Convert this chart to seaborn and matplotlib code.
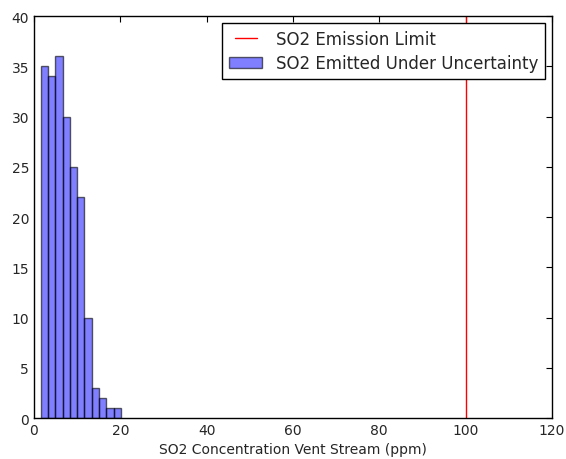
import numpy as np
import matplotlib
matplotlib.use("Agg")
import matplotlib.pyplot as plt
from matplotlib.legend_handler import HandlerLine2D
import seaborn as sns

# Histogram bins (ppm) and counts of simulated SO2 concentrations
bin_edges = [1.55, 3.24, 4.93, 6.62, 8.31, 10.0, 11.69, 13.38, 15.07, 16.76, 18.45, 20.14]
counts = [35, 34, 36, 30, 25, 22, 10, 3, 2, 1, 1]
emission_limit = 100

bin_centers = [(a + b) / 2 for a, b in zip(bin_edges[:-1], bin_edges[1:])]

sns.set_style("white")
plt.rcParams["font.family"] = ["DejaVu Sans"]

fig = plt.figure(figsize=(5.66, 4.6), dpi=100)
ax = fig.add_axes([0.060, 0.089, 0.915, 0.874])

limit_line = ax.axvline(emission_limit, color="red", lw=1, label="SO2 Emission Limit")
sns.histplot(x=bin_centers, weights=counts, bins=bin_edges, ax=ax,
             color="#0000ff", alpha=0.5, edgecolor=(0, 0, 0, 0.6), linewidth=1,
             label="SO2 Emitted Under Uncertainty")

ax.set_xlim(0, 120)
ax.set_ylim(0, 40)
ax.set_xticks(range(0, 121, 20))
ax.set_yticks(range(0, 41, 5))
ax.set_ylabel("")
ax.set_xlabel("SO2 Concentration Vent Stream (ppm)", fontsize=10)
ax.tick_params(direction="in", length=4, width=0.8, top=True, right=True,
               labelsize=10, color="black")
for s in ax.spines.values():
    s.set_color("black")
    s.set_linewidth(1)

ax.legend(loc="upper right", fontsize=12, frameon=True, fancybox=False,
          edgecolor="black", framealpha=1, borderaxespad=0.42,
          labelspacing=0.4,
          handler_map={limit_line: HandlerLine2D(numpoints=2, marker_pad=0.35)})

fig.savefig("out.png", dpi=100)
